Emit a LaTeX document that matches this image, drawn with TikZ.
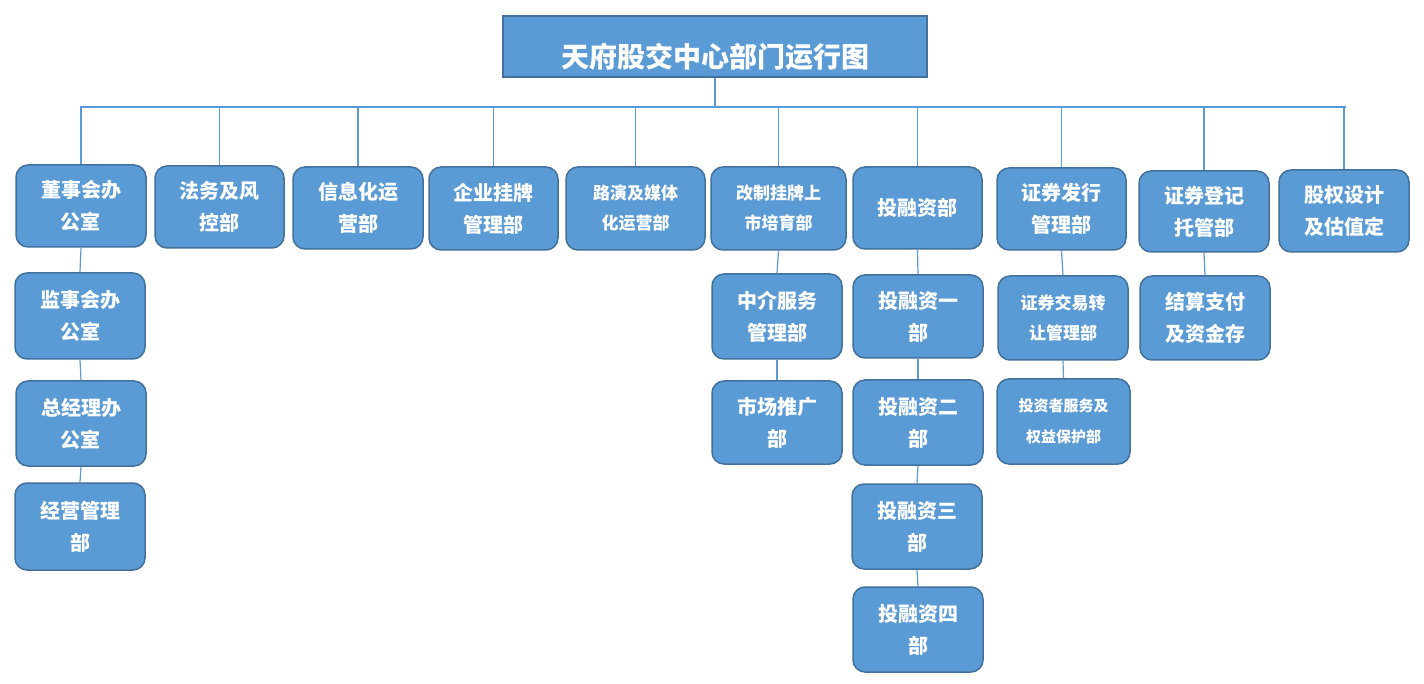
\documentclass[tikz,border=0pt]{standalone}
\usepackage{fontspec}
\newfontfamily\cjk{Noto Sans CJK SC}
\definecolor{boxfill}{HTML}{5B9BD5}
\definecolor{boxline}{HTML}{41719C}
\definecolor{conn}{HTML}{5B9BD5}
\begin{document}
\begin{tikzpicture}[x=1pt,y=-1pt,
  box/.style={draw=boxline, line width=1.5pt, fill=boxfill, rounded corners=12pt,
    minimum width=130pt, minimum height=83pt, inner sep=0pt, align=center,
    text=white, font=\cjk\bfseries\fontsize{20}{32}\selectfont},
  smallbox/.style={box, font=\cjk\bfseries\fontsize{17}{30}\selectfont},
  tinybox/.style={box, font=\cjk\bfseries\fontsize{15}{31}\selectfont},
  conn/.style={draw=conn, line width=1.2pt}]
\useasboundingbox (0,0) rectangle (1424,684);
\fill[white] (0,0) rectangle (1424,684);
% title
\node[draw=boxline, line width=2pt, fill=boxfill, minimum width=424pt, minimum height=61pt, inner sep=0pt] (title) at (715,46.5) {};
\node[text=white, font=\cjk\bfseries\fontsize{28}{32}\selectfont, inner sep=0pt] (titletext) at (715,57) {天府股交中心部门运行图};
% bus
\coordinate (busL) at (80,107);
\coordinate (busR) at (1346,107);
\coordinate (bus) at (715,107);
\draw[conn] (busL) -- (busR);
\draw[conn] (title.south) -- (bus);
% top row
\node[box, minimum width=130pt, minimum height=82pt] (n1) at (81,206) {董事会办\\公室};
\node[box, minimum width=129pt, minimum height=82pt] (n2) at (219.5,207) {法务及风\\控部};
\node[box, minimum width=130pt, minimum height=82pt] (n3) at (358,208) {信息化运\\营部};
\node[box, minimum width=129pt] (n4) at (493.5,208.5) {企业挂牌\\管理部};
\node[smallbox, minimum width=139pt] (n5) at (635.5,208.5) {路演及媒体\\化运营部};
\node[smallbox, minimum width=135pt] (n6) at (778.5,208.5) {改制挂牌上\\市培育部};
\node[box, minimum width=129pt, minimum height=82pt] (n7) at (917.5,208) {投融资部};
\node[box, minimum width=129pt, minimum height=82pt] (n8) at (1061.5,209) {证券发行\\管理部};
\node[box, minimum height=81pt] (n9) at (1204,211.5) {证券登记\\托管部};
\node[box, minimum height=82pt] (n10) at (1344,211) {股权设计\\及估值定};
\foreach \n in {n1,n2,n3,n4,n5,n6,n7,n8,n9,n10}{
  \draw[conn] (\n.north) -- (\n.north |- busL);
}
% column 1
\node[box, minimum height=86pt] (c1a) at (80,316) {监事会办\\公室};
\node[box, minimum height=85pt] (c1b) at (81,423.5) {总经理办\\公室};
\node[box, minimum height=87pt] (c1c) at (80,526.5) {经营管理\\部};
\draw[conn] (n1.south) -- (c1a.north);
\draw[conn] (c1a.south) -- (c1b.north);
\draw[conn] (c1b.south) -- (c1c.north);
% column 6
\node[box, minimum height=85pt] (c6a) at (777,316.5) {中介服务\\管理部};
\node[box, minimum height=83pt] (c6b) at (777,422.5) {市场推广\\部};
\draw[conn] (n6.south) -- (c6a.north);
\draw[conn] (c6a.south) -- (c6b.north);
% column 7
\node[box, minimum height=83pt] (c7a) at (918,316.5) {投融资一\\部};
\node[box, minimum height=85pt] (c7b) at (918,422.5) {投融资二\\部};
\node[box, minimum height=85pt] (c7c) at (917,526.5) {投融资三\\部};
\node[box, minimum height=85pt] (c7d) at (918,629.5) {投融资四\\部};
\draw[conn] (n7.south) -- (c7a.north);
\draw[conn] (c7a.south) -- (c7b.north);
\draw[conn] (c7b.south) -- (c7c.north);
\draw[conn] (c7c.south) -- (c7d.north);
% column 8
\node[smallbox, minimum height=84pt] (c8a) at (1063,318) {证券交易转\\让管理部};
\node[tinybox, minimum width=133pt, minimum height=85pt] (c8b) at (1063.5,421.5) {投资者服务及\\权益保护部};
\draw[conn] (n8.south) -- (c8a.north);
\draw[conn] (c8a.south) -- (c8b.north);
% column 9
\node[box, minimum height=84pt] (c9a) at (1205,318) {结算支付\\及资金存};
\draw[conn] (n9.south) -- (c9a.north);
\end{tikzpicture}
\end{document}
